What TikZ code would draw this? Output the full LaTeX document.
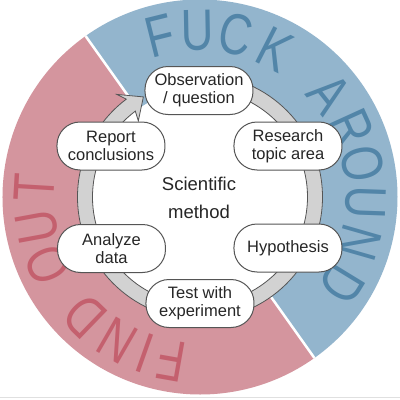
\documentclass[tikz,border=0pt]{standalone}
\usepackage{fontspec}
\setmainfont{Liberation Sans}
\definecolor{bgblue}{HTML}{93B5CD}
\definecolor{bgred}{HTML}{D4959E}
\definecolor{txblue}{HTML}{5285A8}
\definecolor{txred}{HTML}{C4606E}
\definecolor{ringgray}{HTML}{D2D2D2}
\definecolor{edgegray}{HTML}{555555}
\begin{document}
\begin{tikzpicture}[x=1pt,y=1pt,
  stepnode/.style={draw=edgegray, line width=1pt, fill=white, rounded corners=23pt,
    minimum width=108pt, minimum height=48pt, align=center, inner sep=0pt,
    font=\fontsize{16.5}{18}\selectfont, text=black!85},
  bigletter/.style={font=\fontsize{58}{58}\selectfont, inner sep=0pt, xscale=0.78}]
\useasboundingbox (-200,-203) rectangle (200,197);
\fill[white] (-200,-203) rectangle (200,197);
\draw[black!12, line width=1pt] (-200,-200) -- (200,-200);
% background halves
\fill[bgblue] (0,0) -- (125.4:197.5) arc[start angle=125.4, end angle=-54.6, radius=197.5] -- cycle;
\fill[bgred] (0,0) -- (-54.6:197.5) arc[start angle=-54.6, end angle=-234.6, radius=197.5] -- cycle;
\draw[white, line width=2.5pt] (125.4:197.5) -- (-54.6:197.5);
% big curved words
\foreach \l/\a [count=\i] in {F/104, U/91, C/77.5, K/63, A/38.5, R/24.5, O/11.5, U/-2, N/-16, D/-31.5}
  \node[shift={(\a:166)}, rotate=\a-90, bigletter, text=txblue] (fa\i) at (0,0) {\l};
\foreach \l/\a [count=\i] in {F/260, I/250.5, N/240, D/226, O/204, U/190.4, T/176.6}
  \node[shift={(\a:166)}, rotate=\a-90, bigletter, text=txred] (fo\i) at (0,0) {\l};
% inner white disc
\fill[white] (0,0) circle[radius=107.5];
% cycle ring with arrow
\filldraw[fill=ringgray, draw=edgegray, line width=0.8pt]
  (95:122.5) arc[start angle=95, end angle=-233, radius=122.5]
  -- (-231:132) -- (-240.5:115) -- (-231:98) -- (-233:107.5)
  arc[start angle=-233, end angle=95, radius=107.5] -- cycle;
% steps
\node[stepnode] (obs) at (-1,106.5) {Observation\\/ question};
\node[stepnode] (res) at (88,51) {Research\\topic area};
\node[stepnode] (hyp) at (88,-51) {Hypothesis};
\node[stepnode] (test) at (0,-106.5) {Test with\\experiment};
\node[stepnode] (ana) at (-88.5,-51.5) {Analyze\\data};
\node[stepnode] (rep) at (-89,51) {Report\\conclusions};
\node[align=center, font=\fontsize{18.5}{28}\selectfont, text=black!85] (center) at (-1,-1) {Scientific\\method};
\end{tikzpicture}
\end{document}
